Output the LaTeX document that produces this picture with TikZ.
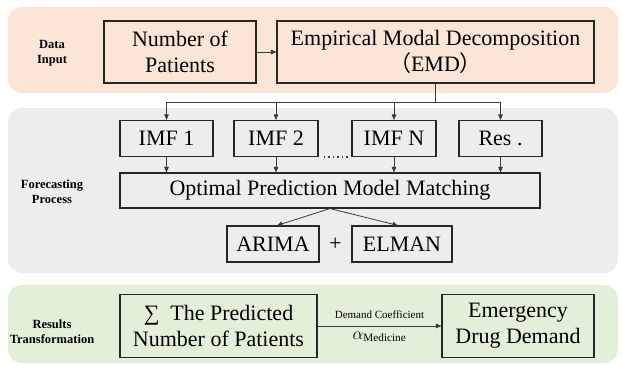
\documentclass[tikz,border=0pt]{standalone}
\usepackage{amsmath}
\usepackage{fontspec}
\setmainfont{Liberation Serif}
\newfontfamily\cjk{Noto Sans CJK SC}
\usetikzlibrary{arrows.meta, positioning}

\definecolor{inputbg}{HTML}{FBE5D6}
\definecolor{processbg}{HTML}{EDEDED}
\definecolor{resultbg}{HTML}{E2EFD9}
\definecolor{linegray}{HTML}{3A3A3A}

\begin{document}
\begin{tikzpicture}[
  x=1pt, y=-1pt,
  box/.style={rectangle, draw=black!85, line width=1.1pt, align=center, inner sep=0pt, font=\fontsize{22}{26}\selectfont},
  tag/.style={align=center, font=\fontsize{12.5}{15}\selectfont\bfseries},
  panel/.style={rounded corners=14pt},
  arrow/.style={-{Triangle[length=5.5pt,width=4.5pt]}, draw=linegray, line width=0.8pt},
  wire/.style={draw=linegray, line width=0.8pt}
]

\useasboundingbox (0,0) rectangle (622,365);

\fill[inputbg, panel] (8,7) rectangle (618,93);
\fill[processbg, panel] (8,108) rectangle (618,273);
\fill[resultbg, panel] (8,285) rectangle (618,363);

\node (tin) [tag] at (52,53) {Data\\Input};
\node (tproc) [tag] at (52,192) {Forecasting\\Process};
\node (tres) [tag] at (52,332) {Results\\Transformation};

\node (pat) [box, minimum width=152pt, minimum height=62pt] at (180,52) {Number of\\Patients};
\node (emd) [box, minimum width=317pt, minimum height=62pt] at (435.5,52) {Empirical Modal Decomposition\\{\cjk （}EMD{\cjk ）}};

\node (imf1) [box, minimum width=93pt, minimum height=36pt] at (166.5,138.5) {IMF 1};
\node (imf2) [box, minimum width=84pt, minimum height=36pt] at (276,138.5) {IMF 2};
\node (imfn) [box, minimum width=84pt, minimum height=36pt] at (394,138.5) {IMF N};
\node (res) [box, minimum width=83pt, minimum height=36pt] at (500.5,138.5) {Res .};

\node (opm) [box, minimum width=420pt, minimum height=35pt] at (330,190.5) {Optimal Prediction Model Matching};

\node (arima) [box, minimum width=92pt, minimum height=36pt] at (273,244) {ARIMA};
\node (plus) [right=6pt of arima, font=\fontsize{22}{26}\selectfont] {+};
\node (elman) [box, minimum width=100pt, minimum height=36pt] at (402,244) {ELMAN};

\node (pred) [box, minimum width=197pt, minimum height=63pt] at (218.5,326) {∑~ The Predicted\\Number of Patients};
\node (emerg) [box, minimum width=152pt, minimum height=63pt] at (518,326) {Emergency\\Drug Demand};

\coordinate (bus) at (435.5,102);

\draw[arrow] (pat) -- (emd);
\draw[wire] (emd.south) -- (bus);
\foreach \n in {imf1,imf2,imfn,res}
  \draw[arrow] (bus) -| (\n.north);
\foreach \n in {imf1,imf2,imfn,res}
  \draw[arrow] (\n.south) -- (\n.south |- opm.north);
\draw[linegray, line width=1.6pt, dash pattern=on 1.6pt off 2.9pt] ([xshift=5pt]imf2.south east) -- ([xshift=-2pt]imfn.south west);
\draw[arrow] (opm.south) -- ([xshift=4pt]arima.north);
\draw[arrow] (opm.south) -- ([xshift=-4pt]elman.north);

\draw[arrow] (pred) -- node[above=4pt, font=\fontsize{11}{13}\selectfont] {Demand Coefficient}
  node[below=2pt, font=\fontsize{16}{18}\selectfont] {$\alpha_{\text{Medicine}}$} (emerg);

\end{tikzpicture}
\end{document}
